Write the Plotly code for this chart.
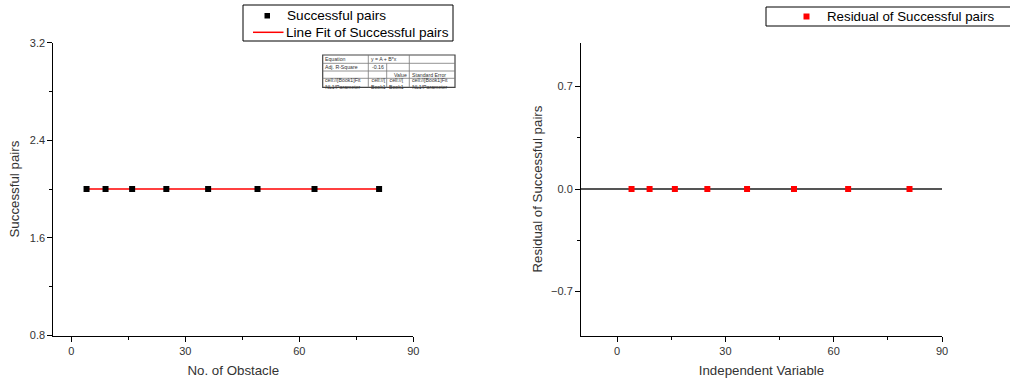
import numpy as np
import plotly.graph_objects as go

W, H = 1010, 381

# Data
obstacles = [4, 9, 16, 25, 36, 49, 64, 81]
successful_pairs = [2, 2, 2, 2, 2, 2, 2, 2]

# Linear fit y = A + B*x and its residuals
B, A = np.polyfit(obstacles, successful_pairs, 1)
fit_x = [min(obstacles), max(obstacles)]
fit_y = [A + B * v for v in fit_x]
residuals = [y - (A + B * x) for x, y in zip(obstacles, successful_pairs)]

# Fit report table cells
table_rows = [
    ["Equation", "y = A + B*x", "", ""],
    ["Adj. R-Square", "-0.16", "", ""],
    ["", "", "Value", "Standard Error"],
    ["cell://[Book1]Fit<br>NL1!Parameter", "cell://[<br>Book1", "cell://[<br>Book1", "cell://[Book1]Fit<br>NL1!Parameter"],
]

FONT = "Liberation Sans, Arial, sans-serif"
RED = "#ff0000"


def px(x):
    return x / W


def py(y):
    return 1 - y / H


fig = go.Figure()

fig.add_trace(go.Scatter(
    x=fit_x, y=fit_y, mode="lines", name="Line Fit of Successful pairs",
    line=dict(color=RED, width=1.5), xaxis="x", yaxis="y", showlegend=False,
))
fig.add_trace(go.Scatter(
    x=obstacles, y=successful_pairs, mode="markers", name="Successful pairs",
    marker=dict(symbol="square", size=6, color="black"),
    xaxis="x", yaxis="y", showlegend=False,
))
fig.add_trace(go.Scatter(
    x=obstacles, y=residuals, mode="markers", name="Residual of Successful pairs",
    marker=dict(symbol="square", size=6, color=RED),
    xaxis="x2", yaxis="y2", showlegend=False,
))

axis_common = dict(
    showline=True, linecolor="black", linewidth=1,
    ticks="outside", ticklen=5, tickwidth=1, tickcolor="black",
    showgrid=False, zeroline=False,
    tickfont=dict(family=FONT, size=11, color="#333333"),
    title_font=dict(family=FONT, size=13.3, color="#333333"),
)
minor_common = dict(ticks="outside", ticklen=3, tickcolor="black")

ybot, ytop = 335.5, 42.7

fig.update_layout(
    width=W, height=H,
    margin=dict(l=0, r=0, t=0, b=0, autoexpand=False),
    paper_bgcolor="white", plot_bgcolor="white",
    font=dict(family=FONT),
    showlegend=False,
    xaxis=dict(
        domain=[px(53.3), px(413.3)], range=[-4.75, 90],
        tickvals=[0, 30, 60, 90], anchor="y",
        minor=dict(tickvals=[15, 45, 75], **minor_common),
        title=dict(text="No. of Obstacle", standoff=9),
        **axis_common,
    ),
    yaxis=dict(
        domain=[py(ybot), py(ytop)], range=[0.8, 3.2],
        tickvals=[0.8, 1.6, 2.4, 3.2], tickformat=".1f", anchor="x",
        minor=dict(tickvals=[1.2, 2.0, 2.8], **minor_common),
        title=dict(text="Successful pairs", standoff=7),
        **axis_common,
    ),
    xaxis2=dict(
        domain=[px(581), px(942)], range=[-10, 90],
        tickvals=[0, 30, 60, 90], anchor="y2",
        minor=dict(tickvals=[15, 45, 75], **minor_common),
        title=dict(text="Independent Variable", standoff=9),
        **axis_common,
    ),
    yaxis2=dict(
        domain=[py(ybot), py(ytop)], range=[-1, 1],
        tickvals=[-0.7, 0, 0.7], tickformat=".1f", anchor="x2",
        minor=dict(tickvals=[-0.35, 0.35], **minor_common),
        title=dict(text="Residual of Successful pairs", standoff=5),
        **axis_common,
    ),
)
fig.update_layout(yaxis2_zeroline=True, yaxis2_zerolinecolor="#555555", yaxis2_zerolinewidth=1.5)

shapes = []
annotations = []


def paper_rect(x0, y0, x1, y1, **kw):
    return dict(type="rect", xref="paper", yref="paper",
                x0=px(x0), x1=px(x1), y0=py(y1), y1=py(y0), **kw)


def paper_line(x0, y0, x1, y1, **kw):
    return dict(type="line", xref="paper", yref="paper",
                x0=px(x0), x1=px(x1), y0=py(y0), y1=py(y1), **kw)


def label(x, y, text, size, anchor="left", color="black"):
    return dict(x=px(x), y=py(y), xref="paper", yref="paper", text=text,
                showarrow=False, xanchor=anchor, yanchor="middle",
                borderpad=0, font=dict(family=FONT, size=size, color=color))


# Legend of the fit panel
shapes.append(paper_rect(243, 5, 453, 41, line=dict(color="black", width=1), fillcolor="white"))
shapes.append(paper_rect(264.5, 13, 270, 18.5, line=dict(width=0), fillcolor="black"))
shapes.append(paper_line(253, 32.3, 283.5, 32.3, line=dict(color=RED, width=1.5)))
annotations.append(label(285.5, 15.5, fig.data[1].name, 13.6))
annotations.append(label(284.5, 32, fig.data[0].name, 13.6))

# Legend of the residual panel
shapes.append(paper_rect(766, 7, 1012, 26, line=dict(color="black", width=1), fillcolor="white"))
shapes.append(paper_rect(803.5, 13.5, 809.5, 19.5, line=dict(width=0), fillcolor=RED))
annotations.append(label(825.5, 16.5, fig.data[2].name, 13.3))

# Fit report table
col_edges = [322.7, 368.3, 386.7, 409.3, 455.0]
row_edges = [55.0, 63.3, 71.0, 78.3, 87.3]
shapes.append(paper_rect(col_edges[0], row_edges[0], col_edges[-1], row_edges[-1],
                         line=dict(color="#444444", width=1.2), fillcolor="white"))
for r in range(1, len(row_edges) - 1):
    shapes.append(paper_line(col_edges[0], row_edges[r], col_edges[-1], row_edges[r],
                             line=dict(color="#777777", width=0.8)))
for c in range(1, len(col_edges) - 1):
    for r in range(len(row_edges) - 1):
        # the equation text spans the middle two columns in the first row
        if r == 0 and c == 2:
            continue
        shapes.append(paper_line(col_edges[c], row_edges[r], col_edges[c], row_edges[r + 1],
                                 line=dict(color="#777777", width=0.8)))

for r, row in enumerate(table_rows):
    for c, txt in enumerate(row):
        if not txt:
            continue
        yc = (row_edges[r] + row_edges[r + 1]) / 2 + 0.3
        if c in (1, 2) and r in (1, 2):
            annotations.append(label(col_edges[c + 1] - 1.5, yc, txt, 5.2, "right", "#333333"))
        else:
            annotations.append(label(col_edges[c] + 1.5, yc, txt, 5.2, "left", "#333333"))

fig.update_layout(shapes=shapes, annotations=annotations)

fig.write_html("out.html")
